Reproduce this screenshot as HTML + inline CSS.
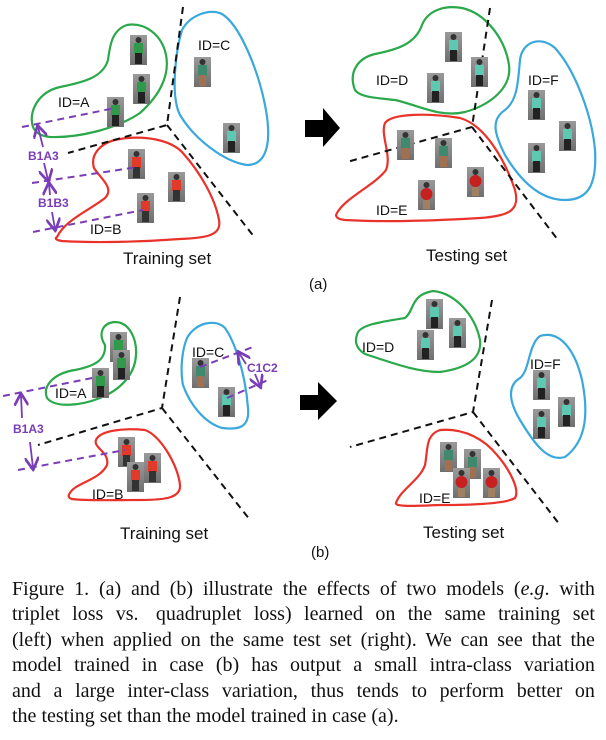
<!DOCTYPE html>
<html><head><meta charset="utf-8"><style>
html,body{margin:0;padding:0;background:#fff;}
#wrap{position:relative;width:606px;height:740px;overflow:hidden;}
svg{position:absolute;left:0;top:0;}
.cap{position:absolute;left:12px;top:577px;width:583px;font-family:"Liberation Serif",serif;font-size:20px;line-height:25.4px;color:#111;}
.cap div{display:flex;justify-content:space-between;white-space:nowrap;}
.cap div.last{justify-content:flex-start;gap:5px;}
</style></head><body><div id="wrap">
<svg width="606" height="740" viewBox="0 0 606 740" font-family="Liberation Sans, sans-serif">
<defs>
<linearGradient id="bg" x1="0" y1="0" x2="0" y2="1"><stop offset="0" stop-color="#9a9a9a"/><stop offset="1" stop-color="#6f6f6f"/></linearGradient>
<g id="pg"><rect width="17" height="30" fill="url(#bg)"/><rect x="4" y="8" width="9" height="11" fill="#2f9a4a"/><rect x="5" y="18" width="7" height="11" fill="#222"/><circle cx="8.5" cy="5" r="3" fill="#333"/></g>
<g id="pr"><rect width="17" height="30" fill="url(#bg)"/><rect x="4" y="8" width="9" height="11" fill="#e23a2a"/><rect x="5" y="18" width="7" height="11" fill="#333"/><circle cx="8.5" cy="5" r="3" fill="#333"/></g>
<g id="pc"><rect width="17" height="30" fill="url(#bg)"/><rect x="4" y="8" width="9" height="11" fill="#5cc9b0"/><rect x="5" y="18" width="7" height="11" fill="#222"/><circle cx="8.5" cy="5" r="3" fill="#333"/></g>
<g id="pe"><rect width="17" height="30" fill="url(#bg)"/><rect x="4" y="8" width="9" height="11" fill="#3f8a6e"/><rect x="5" y="18" width="7" height="11" fill="#a07050"/><circle cx="8.5" cy="5" r="3" fill="#333"/></g>
<g id="per"><rect width="17" height="30" fill="url(#bg)"/><circle cx="8.5" cy="14" r="6" fill="#c62020"/><rect x="5" y="20" width="7" height="9" fill="#a08060"/><circle cx="8.5" cy="5" r="3" fill="#333"/></g>
<marker id="ah" markerWidth="8" markerHeight="8" refX="6" refY="4" orient="auto"><path d="M0,0 L7,4 L0,8" fill="none" stroke="#7a3db8" stroke-width="1.5"/></marker>
</defs>
<g fill="none" stroke-width="2.2" stroke-linejoin="round">
<path stroke="#2aa84a" d="M33,127 C28,112 38,92 60,87 C85,82 103,77 108,60 C110,45 112,30 127,25 C145,22 162,35 166,55 C170,75 160,95 140,113 C118,128 80,138 50,137 C40,136 35,132 33,127Z"/>
<path stroke="#3aa8dc" d="M182,30 C190,15 210,8 222,14 C240,25 258,70 265,105 C272,140 268,165 247,165 C225,162 195,140 180,115 C170,95 176,50 182,30Z"/>
<path stroke="#e8322a" d="M57,237 C65,220 90,210 105,198 C115,188 100,178 94,168 C90,155 100,142 120,139 C145,135 170,140 182,152 C200,172 215,198 219,220 C222,236 205,238 180,239 C140,242 95,243 62,241 C55,240 55,238 57,237Z"/>
<path stroke="#2aa84a" d="M355,90 C348,72 358,58 375,54 C395,50 415,45 422,25 C428,10 445,5 462,8 C485,13 505,38 509,65 C512,88 490,105 465,112 C440,118 418,105 395,100 C375,98 360,97 355,90Z"/>
<path stroke="#3aa8dc" d="M520,60 C522,42 540,35 555,48 C575,70 592,115 595,150 C597,185 588,200 565,200 C540,200 520,180 505,155 C495,135 490,120 505,110 C518,100 518,80 520,60Z"/>
<path stroke="#e8322a" d="M337,213 C345,198 375,185 386,170 C392,155 380,135 385,123 C392,113 430,113 460,118 C485,125 505,160 515,190 C520,210 510,216 480,218 C430,221 380,222 345,220 C336,219 335,216 337,213Z"/>
<g transform="translate(0,290)">
<path stroke="#2aa84a" d="M47,108 C42,95 55,83 75,80 C95,76 106,70 105,55 C98,44 102,33 115,32 C130,32 137,50 136,65 C135,85 120,100 100,108 C80,116 55,118 47,108Z"/>
<path stroke="#3aa8dc" d="M187,48 C195,33 215,28 225,38 C237,55 246,90 248,118 C250,138 238,140 222,138 C205,133 190,115 183,95 C180,80 182,60 187,48Z"/>
<path stroke="#e8322a" d="M70,203 C75,193 100,190 107,175 C110,162 93,158 96,150 C100,140 125,138 145,140 C160,145 178,175 180,195 C181,208 165,210 140,210 C115,210 85,211 72,209 C68,208 68,205 70,203Z"/>
</g>
<path stroke="#2aa84a" d="M357,335 C358,325 380,322 405,318 C415,310 410,295 433,291 C455,293 475,315 480,340 C482,358 468,368 440,372 C415,372 390,362 365,354 C355,348 355,340 357,335Z"/>
<path stroke="#3aa8dc" d="M540,336 C560,330 575,350 582,380 C588,410 588,440 565,457 C548,462 535,445 520,420 C508,400 508,385 520,378 C530,370 528,345 540,336Z"/>
<path stroke="#e8322a" d="M396,503 C400,490 420,480 425,465 C428,450 425,435 440,430 C465,428 485,440 497,455 C510,470 520,490 515,498 C505,504 470,505 440,505 C415,506 395,507 396,503Z"/>
</g>
<g fill="none" stroke="#111" stroke-width="2" stroke-dasharray="7,5">
<path d="M183,7 L167,125 L68,153 M167,125 L255,238"/>
<path d="M490,8 L472,127 L347,162 M472,127 L558,240"/>
<path d="M180,297 L162,408 L38,445 M162,408 L250,520"/>
<path d="M492,300 L473,412 L350,447 M473,412 L560,525"/>
</g>
<path d="M305,120 H323 V108 L340,128 L323,147 V137 H305Z" fill="#000"/>
<path d="M300,395 H318 V382 L337,401 L318,420 V410 H300Z" fill="#000"/>
<use href="#pg" x="130" y="35"/><use href="#pg" x="133" y="74"/><use href="#pg" x="107" y="97"/>
<use href="#pe" x="194" y="57"/><use href="#pc" x="223" y="123"/>
<use href="#pr" x="128" y="149"/><use href="#pr" x="168" y="172"/><use href="#pr" x="137" y="193"/>
<use href="#pc" x="445" y="32"/><use href="#pc" x="471" y="57"/><use href="#pc" x="427" y="73"/>
<use href="#pc" x="528" y="90"/><use href="#pc" x="559" y="121"/><use href="#pc" x="528" y="143"/>
<use href="#pe" x="397" y="130"/><use href="#pe" x="435" y="138"/><use href="#per" x="467" y="167"/><use href="#per" x="418" y="180"/>
<use href="#pg" x="110" y="332"/><use href="#pg" x="113" y="350"/><use href="#pg" x="92" y="368"/>
<use href="#pe" x="192" y="358"/><use href="#pc" x="218" y="387"/>
<use href="#pr" x="118" y="437"/><use href="#pr" x="144" y="453"/><use href="#pr" x="127" y="462"/>
<use href="#pc" x="426" y="299"/><use href="#pc" x="449" y="318"/><use href="#pc" x="417" y="330"/>
<use href="#pc" x="533" y="370"/><use href="#pc" x="558" y="397"/><use href="#pc" x="533" y="409"/>
<use href="#pe" x="440" y="442"/><use href="#pe" x="464" y="449"/><use href="#per" x="453" y="468"/><use href="#per" x="483" y="468"/>
<g fill="none" stroke="#7a3db8" stroke-width="2" stroke-dasharray="7,5">
<path d="M22,127 L115,108 M32,183 L138,167 M33,232 L143,210"/>
<path d="M3,396 L97,377 M18,470 L125,450 M200,367 L253,347 M227,398 L268,380"/>
</g>
<g fill="none" stroke="#7a3db8" stroke-width="1.8" marker-end="url(#ah)">
<path d="M43,147 L38,127"/><path d="M44,163 L48,180"/>
<path d="M50,195 L49,184"/><path d="M52,212 L55,229"/>
<path d="M22,418 L21,395"/><path d="M30,442 L33,468"/>
<path d="M246,364 L239,353"/><path d="M255,374 L260,386"/>
</g>
<g fill="#7a3db8" font-weight="bold" font-size="12">
<text x="28" y="160">B1A3</text><text x="38" y="207">B1B3</text>
<text x="13" y="433">B1A3</text><text x="247" y="372">C1C2</text>
</g>
<g fill="#111" font-size="14">
<text x="58" y="107">ID=A</text><text x="198" y="50">ID=C</text><text x="90" y="234">ID=B</text>
<text x="376" y="85">ID=D</text><text x="528" y="85">ID=F</text><text x="376" y="215">ID=E</text>
<text x="55" y="398">ID=A</text><text x="192" y="357">ID=C</text><text x="92" y="499">ID=B</text>
<text x="362" y="352">ID=D</text><text x="530" y="369">ID=F</text><text x="419" y="503">ID=E</text>
</g>
<g fill="#111" font-size="17">
<text x="123" y="264">Training set</text><text x="426" y="261">Testing set</text>
<text x="120" y="539">Training set</text><text x="423" y="538">Testing set</text>
</g>
<g fill="#111" font-size="15">
<text x="309" y="289">(a)</text><text x="311" y="557">(b)</text>
</g>
</svg>
<div class="cap">
<div><span>Figure</span><span>1.</span><span>(a)</span><span>and</span><span>(b)</span><span>illustrate</span><span>the</span><span>effects</span><span>of</span><span>two</span><span>models</span><span>(<i>e.g</i>.</span><span>with</span></div>
<div><span>triplet</span><span>loss</span><span>vs.&nbsp;</span><span>quadruplet</span><span>loss)</span><span>learned</span><span>on</span><span>the</span><span>same</span><span>training</span><span>set</span></div>
<div><span>(left)</span><span>when</span><span>applied</span><span>on</span><span>the</span><span>same</span><span>test</span><span>set</span><span>(right).</span><span>We</span><span>can</span><span>see</span><span>that</span><span>the</span></div>
<div><span>model</span><span>trained</span><span>in</span><span>case</span><span>(b)</span><span>has</span><span>output</span><span>a</span><span>small</span><span>intra-class</span><span>variation</span></div>
<div><span>and</span><span>a</span><span>large</span><span>inter-class</span><span>variation,</span><span>thus</span><span>tends</span><span>to</span><span>perform</span><span>better</span><span>on</span></div>
<div class="last"><span>the</span><span>testing</span><span>set</span><span>than</span><span>the</span><span>model</span><span>trained</span><span>in</span><span>case</span><span>(a).</span></div>
</div>
</div></body></html>
